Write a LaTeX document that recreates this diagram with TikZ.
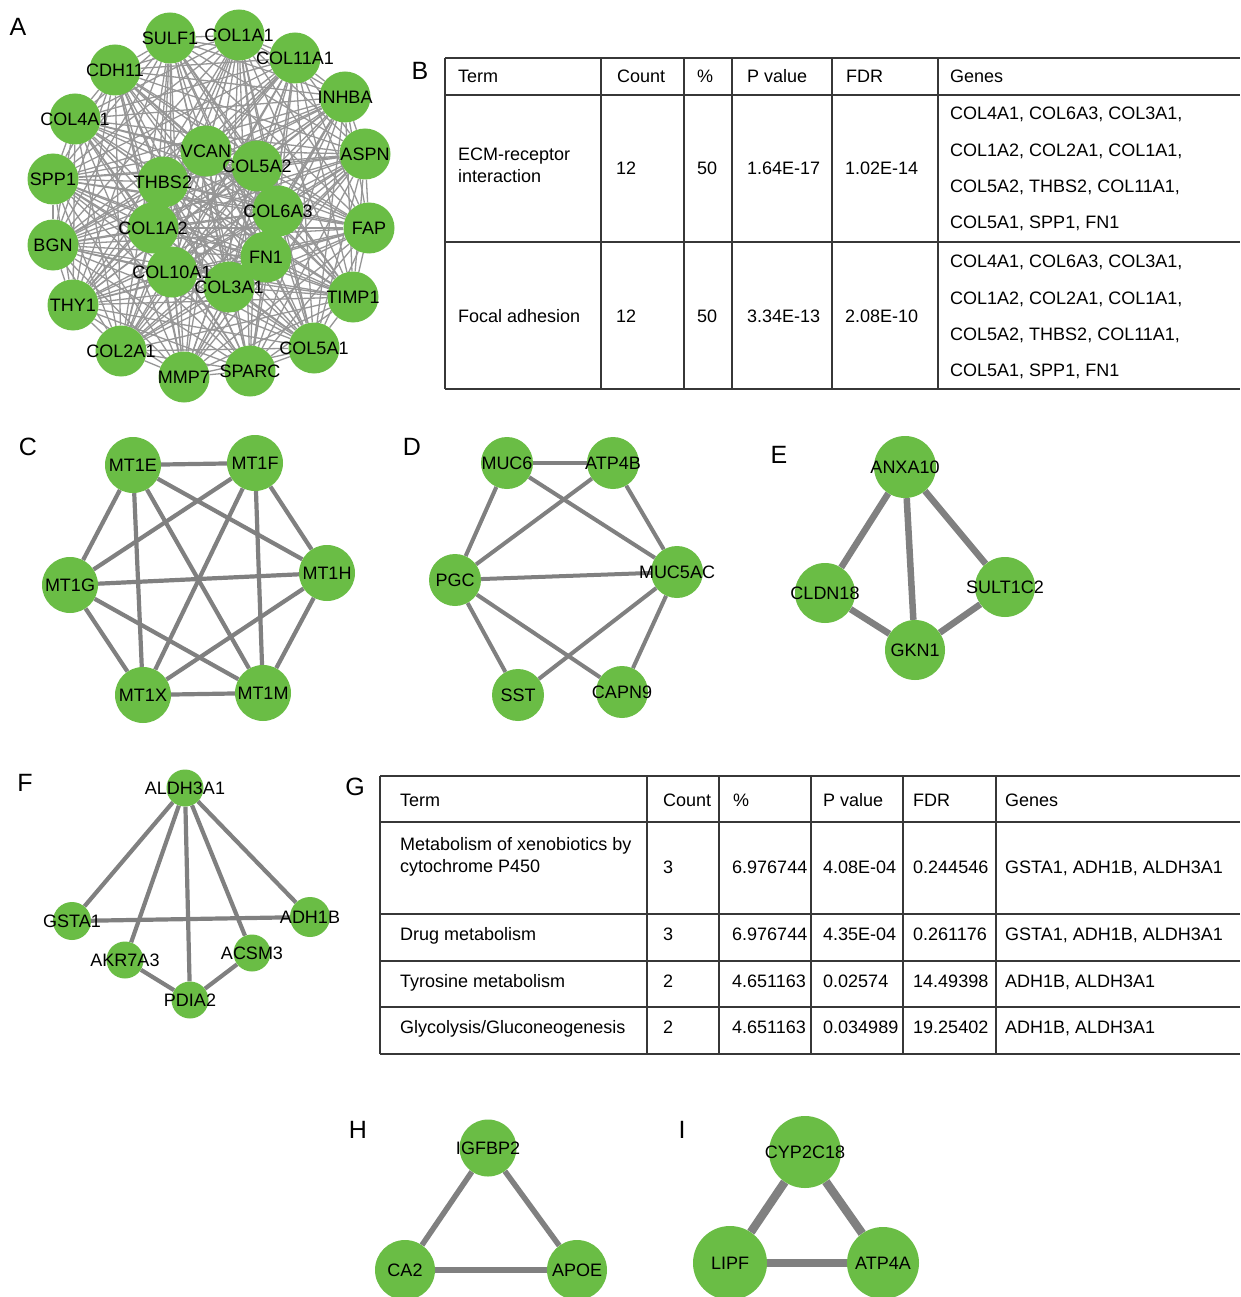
\documentclass[tikz,border=0pt]{standalone}
\usepackage{fontspec}
\setmainfont{Liberation Sans}
\definecolor{nodegreen}{RGB}{106,189,69}
\definecolor{linkgray}{RGB}{128,128,128}
\definecolor{webgray}{RGB}{150,150,150}
\definecolor{rulegray}{RGB}{55,55,55}
\pgfdeclarelayer{paper}
\pgfdeclarelayer{edges}
\pgfsetlayers{paper,edges,main}
% gene names overhang their circles, so they take no width
\newcommand{\glabel}[1]{\makebox[0pt]{#1}}

\begin{document}
\begin{tikzpicture}[
  x=1pt, y=-1pt,
  gene/.style={circle, fill=nodegreen, inner sep=0pt, minimum size=#1, font=\fontsize{18}{20}\selectfont},
  gene/.default=51pt,
  genelabel/.style={inner sep=0pt, font=\fontsize{18}{20}\selectfont},
  panel/.style={inner sep=0pt, font=\fontsize{25}{28}\selectfont},
  link/.style={draw=linkgray, line width=#1},
  link/.default=4.2pt,
  web/.style={draw=webgray, line width=1.3pt},
  cell/.style={anchor=base west, inner sep=0pt, font=\fontsize{18}{20}\selectfont},
  rule/.style={draw=rulegray, line width=1.4pt}
]
\begin{pgfonlayer}{paper}
  \fill[white] (0,0) rectangle (1240,1297);
\end{pgfonlayer}
\useasboundingbox (0,0) rectangle (1240,1297);

% panel letters
\node[panel] (pa) at (18,27) {A};
\node[panel] (pb) at (420,71) {B};
\node[panel] (pc) at (28,447) {C};
\node[panel] (pd) at (412,447) {D};
\node[panel] (pe) at (779,455) {E};
\node[panel] (pf) at (25,783) {F};
\node[panel] (pg) at (355,787) {G};
\node[panel] (ph) at (358,1130) {H};
\node[panel] (pi) at (682,1130) {I};

% A: ECM network
\def\webnodes{sulf1/SULF1/170/38, col1a1/COL1A1/239/35, col11a1/COL11A1/295/58,
  cdh11/CDH11/115/70, inhba/INHBA/345/97, col4a1/COL4A1/75/119, aspn/ASPN/365/154,
  spp1/SPP1/53/179, fap/FAP/369/228, bgn/BGN/53/245, timp1/TIMP1/353/297,
  thy1/THY1/73/305, col2a1/COL2A1/121/351, col5a1/COL5A1/314/348, mmp7/MMP7/184/377,
  sparc/SPARC/250/371, vcan/VCAN/206/151, thbs2/THBS2/163/182, col5a2/COL5A2/257/166,
  col1a2/COL1A2/153/228, col6a3/COL6A3/278/211, col10a1/COL10A1/172/272,
  fn1/FN1/266/257, col3a1/COL3A1/229/287}
\foreach \n/\t/\x/\y in \webnodes
  \node[gene] (\n) at (\x,\y) {};
\foreach \n/\t/\x/\y in \webnodes
  \node[genelabel] (\n-l) at (\n) {\t};
\begin{pgfonlayer}{edges}
  \foreach \a/\s/\p/\q [count=\i] in \webnodes
    \foreach \b/\u/\v/\w [count=\j] in \webnodes
      {\ifnum\j>\i \draw[web] (\a) -- (\b);\fi}
\end{pgfonlayer}

% B: table
\foreach \y in {58,95,242,389}
  \draw[rule] (445,\y) -- (1240,\y);
\foreach \x in {445,601,684,732,832,938}
  \draw[rule] (\x,58) -- (\x,389);
\foreach \x/\t [count=\k] in {458/Term, 617/Count, 697/\%, 747/P value, 846/FDR, 950/Genes}
  \node[cell] (bh\k) at (\x,83) {\t};
\node[cell] (bt1) at (458,161) {ECM-receptor};
\node[cell] (bt1b) at (458,183) {interaction};
\node[cell] (bt2) at (458,322) {Focal adhesion};
\foreach \y/\pv/\fdr [count=\r] in {175/1.64E-17/1.02E-14, 322/3.34E-13/2.08E-10} {
  \node[cell] (bc\r) at (616,\y) {12};
  \node[cell] (bp\r) at (697,\y) {50};
  \node[cell] (bv\r) at (747,\y) {\pv};
  \node[cell] (bf\r) at (845,\y) {\fdr};
}
\foreach \dy [count=\r] in {0,147}
  \foreach \y/\t [count=\k] in {120/{COL4A1, COL6A3, COL3A1,}, 157/{COL1A2, COL2A1, COL1A1,},
      193/{COL5A2, THBS2, COL11A1,}, 229/{COL5A1, SPP1, FN1}}
    \node[cell] (bg\r-\k) at (950,\y+\dy) {\t};

% C: metallothioneins
\node[gene=56pt] (mt1e) at (133,465) {\glabel{MT1E}};
\node[gene=56pt] (mt1f) at (255,463) {\glabel{MT1F}};
\node[gene=56pt] (mt1g) at (70,585) {\glabel{MT1G}};
\node[gene=56pt] (mt1h) at (327,573) {\glabel{MT1H}};
\node[gene=56pt] (mt1x) at (143,695) {\glabel{MT1X}};
\node[gene=56pt] (mt1m) at (263,693) {\glabel{MT1M}};
\begin{pgfonlayer}{edges}
  \foreach \a/\b in {mt1e/mt1f, mt1e/mt1g, mt1e/mt1h, mt1e/mt1x, mt1e/mt1m,
      mt1f/mt1g, mt1f/mt1h, mt1f/mt1x, mt1f/mt1m, mt1g/mt1h, mt1g/mt1x,
      mt1g/mt1m, mt1h/mt1x, mt1h/mt1m, mt1x/mt1m}
    \draw[link] (\a) -- (\b);
\end{pgfonlayer}

% D
\node[gene=52pt] (muc6) at (507,463) {\glabel{MUC6}};
\node[gene=52pt] (atp4b) at (613,463) {\glabel{ATP4B}};
\node[gene=52pt] (pgc) at (455,580) {\glabel{PGC}};
\node[gene=52pt] (muc5ac) at (677,572) {\glabel{MUC5AC}};
\node[gene=52pt] (sst) at (518,695) {\glabel{SST}};
\node[gene=52pt] (capn9) at (622,692) {\glabel{CAPN9}};
\begin{pgfonlayer}{edges}
  \foreach \a/\b in {muc6/atp4b, muc6/pgc, muc6/muc5ac, atp4b/pgc, atp4b/muc5ac,
      pgc/muc5ac, pgc/sst, pgc/capn9, muc5ac/sst, muc5ac/capn9}
    \draw[link=4pt] (\a) -- (\b);
\end{pgfonlayer}

% E
\node[gene=62pt] (anxa10) at (905,467) {\glabel{ANXA10}};
\node[gene=60pt] (cldn18) at (825,593) {\glabel{CLDN18}};
\node[gene=60pt] (sult1c2) at (1005,587) {\glabel{SULT1C2}};
\node[gene=60pt] (gkn1) at (915,650) {\glabel{GKN1}};
\begin{pgfonlayer}{edges}
  \foreach \a/\b in {anxa10/cldn18, anxa10/gkn1, anxa10/sult1c2, cldn18/gkn1, gkn1/sult1c2}
    \draw[link=6.5pt] (\a) -- (\b);
\end{pgfonlayer}

% F
\node[gene=37pt] (aldh3a1) at (185,788) {\glabel{ALDH3A1}};
\node[gene=38pt] (gsta1) at (72,921) {\glabel{GSTA1}};
\node[gene=40pt] (adh1b) at (310,917) {\glabel{ADH1B}};
\node[gene=37pt] (akr7a3) at (125,960) {\glabel{AKR7A3}};
\node[gene=37pt] (acsm3) at (252,953) {\glabel{ACSM3}};
\node[gene=37pt] (pdia2) at (190,1000) {\glabel{PDIA2}};
\begin{pgfonlayer}{edges}
  \foreach \a/\b in {aldh3a1/gsta1, aldh3a1/akr7a3, aldh3a1/pdia2, aldh3a1/acsm3,
      aldh3a1/adh1b, gsta1/adh1b, akr7a3/pdia2, acsm3/pdia2}
    \draw[link] (\a) -- (\b);
\end{pgfonlayer}

% G: table
\foreach \y in {776,822,914,961,1007,1054}
  \draw[rule] (380,\y) -- (1240,\y);
\foreach \x in {380,647,719,811,903,996}
  \draw[rule] (\x,776) -- (\x,1054);
\foreach \x/\t [count=\k] in {400/Term, 663/Count, 733/\%, 823/P value, 913/FDR, 1005/Genes}
  \node[cell] (gh\k) at (\x,806) {\t};
\node[cell] (gt1) at (400,850) {Metabolism of xenobiotics by};
\node[cell] (gt1b) at (400,872) {cytochrome P450};
\foreach \y/\t/\c/\pc/\pv/\fdr/\gn [count=\r] in {
    873/{}/3/6.976744/4.08E-04/0.244546/{GSTA1, ADH1B, ALDH3A1},
    940/Drug metabolism/3/6.976744/4.35E-04/0.261176/{GSTA1, ADH1B, ALDH3A1},
    987/Tyrosine metabolism/2/4.651163/0.02574/14.49398/{ADH1B, ALDH3A1},
    1033/Glycolysis\slash Gluconeogenesis/2/4.651163/0.034989/19.25402/{ADH1B, ALDH3A1}} {
  \node[cell] (gt\r x) at (400,\y) {\t};
  \node[cell] (gc\r) at (663,\y) {\c};
  \node[cell] (gp\r) at (732,\y) {\pc};
  \node[cell] (gv\r) at (823,\y) {\pv};
  \node[cell] (gf\r) at (913,\y) {\fdr};
  \node[cell] (gg\r) at (1005,\y) {\gn};
}

% H
\node[gene=57pt] (igfbp2) at (488,1148) {\glabel{IGFBP2}};
\node[gene=60pt] (ca2) at (405,1270) {\glabel{CA2}};
\node[gene=60pt] (apoe) at (577,1270) {\glabel{APOE}};
\begin{pgfonlayer}{edges}
  \foreach \a/\b in {igfbp2/ca2, igfbp2/apoe, ca2/apoe}
    \draw[link=5.5pt] (\a) -- (\b);
\end{pgfonlayer}

% I
\node[gene=72pt] (cyp2c18) at (805,1152) {\glabel{CYP2C18}};
\node[gene=74pt] (lipf) at (730,1263) {\glabel{LIPF}};
\node[gene=72pt] (atp4a) at (883,1263) {\glabel{ATP4A}};
\begin{pgfonlayer}{edges}
  \foreach \a/\b in {cyp2c18/lipf, cyp2c18/atp4a, lipf/atp4a}
    \draw[link=8.5pt] (\a) -- (\b);
\end{pgfonlayer}
\end{tikzpicture}
\end{document}
